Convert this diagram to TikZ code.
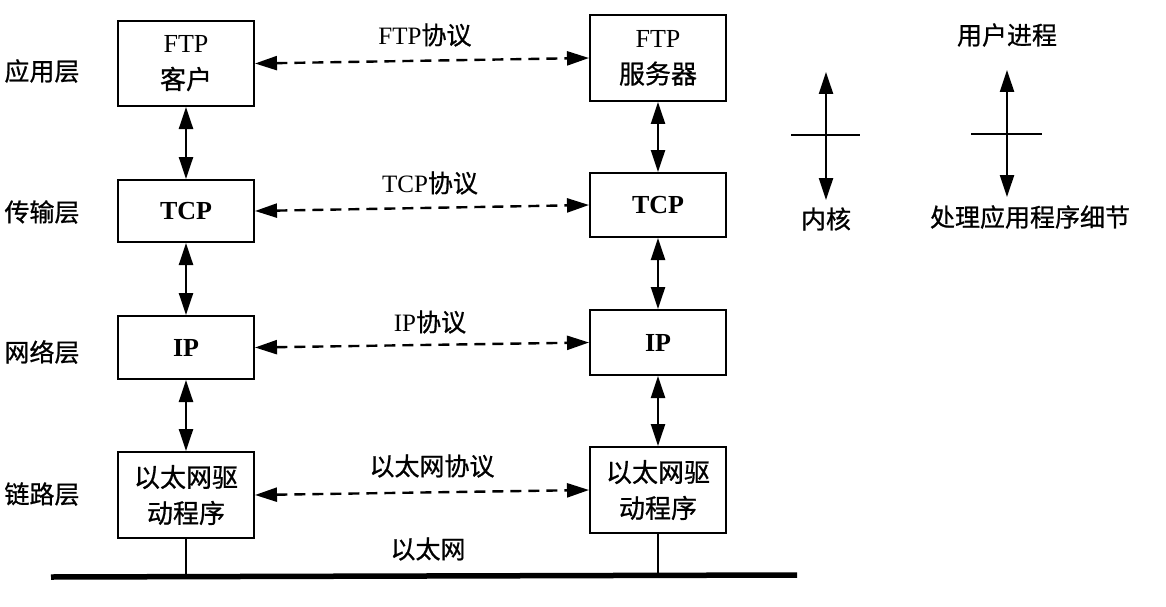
\documentclass[tikz,border=0pt]{standalone}
\usepackage{fontspec}
\setmainfont{Liberation Serif}
\newfontfamily\cjk[FakeBold=0.8]{Noto Sans CJK SC}
\usetikzlibrary{arrows.meta}
\newcommand\zh[1]{{\cjk #1}}
\begin{document}
\begin{tikzpicture}[x=1pt,y=-1pt,
  box/.style={draw,line width=2pt,minimum width=136pt,align=center,inner sep=0pt,font=\fontsize{26}{36}\selectfont},
  lbl/.style={font=\fontsize{25}{28}\selectfont,inner sep=0pt},
  varrow/.style={line width=2.4pt,{Triangle[length=22pt,width=14pt]}-{Triangle[length=22pt,width=14pt]}},
  darrow/.style={line width=2.4pt,dash pattern=on 11pt off 7pt,{Triangle[length=22pt,width=14pt]}-{Triangle[length=22pt,width=14pt]}},
  thin/.style={line width=1.6pt}
]
\useasboundingbox[fill=white] (0,0) rectangle (1166,607);

% layer labels
\node[lbl] (l1) at (42,71) {\zh{应用层}};
\node[lbl] (l2) at (42,212) {\zh{传输层}};
\node[lbl] (l3) at (42,352) {\zh{网络层}};
\node[lbl] (l4) at (42,494) {\zh{链路层}};

% left column
\node[box,minimum height=85pt] (lftp) at (186,63.5) {FTP\\\zh{客户}};
\node[box,minimum height=62pt] (ltcp) at (186,211) {\textbf{TCP}};
\node[box,minimum height=63pt] (lip) at (186,347.5) {\textbf{IP}};
\node[box,minimum height=86pt] (leth) at (186,495) {\zh{以太网驱}\\\zh{动程序}};

% right column
\node[box,minimum height=86pt] (rftp) at (658,58) {FTP\\\zh{服务器}};
\node[box,minimum height=64pt] (rtcp) at (658,205) {\textbf{TCP}};
\node[box,minimum height=65pt] (rip) at (658,342.5) {\textbf{IP}};
\node[box,minimum height=86pt] (reth) at (658,490) {\zh{以太网驱}\\\zh{动程序}};

% vertical arrows
\draw[varrow] (lftp) -- (ltcp);
\draw[varrow] (ltcp) -- (lip);
\draw[varrow] (lip) -- (leth);
\draw[varrow] (rftp) -- (rtcp);
\draw[varrow] (rtcp) -- (rip);
\draw[varrow] (rip) -- (reth);

% peer protocols
\draw[darrow] (lftp.east) -- (rftp.west);
\draw[darrow] (ltcp.east) -- (rtcp.west);
\draw[darrow] (lip.east) -- (rip.west);
\draw[darrow] (leth.east) -- (reth.west);
\node[lbl] (pftp) at (425,35) {FTP\zh{协议}};
\node[lbl] (ptcp) at (430,183) {TCP\zh{协议}};
\node[lbl] (pip) at (430,322) {IP\zh{协议}};
\node[lbl] (peth) at (432,466) {\zh{以太网协议}};

% ethernet bus
\coordinate (busL) at (51,577);
\coordinate (busR) at (797,575);
\draw[line width=5.5pt] (busL) -- (busR);
\draw[thin] (leth.south) -- (leth.south |- busL);
\draw[thin] (reth.south) -- (reth.south |- busR);
\node[lbl] (ether) at (428,549) {\zh{以太网}};

% legend
\coordinate (k1) at (826,72);
\coordinate (k2) at (826,200);
\draw[varrow] (k1) -- (k2);
\coordinate (kb1) at (791,135);
\coordinate (kb2) at (860,135);
\draw[line width=2pt] (kb1) -- (kb2);
\node[lbl] (kern) at (826,219) {\zh{内核}};

\node[lbl] (user) at (1007,35) {\zh{用户进程}};
\coordinate (u1) at (1007,70);
\coordinate (u2) at (1007,197);
\draw[varrow] (u1) -- (u2);
\coordinate (ub1) at (971,134);
\coordinate (ub2) at (1042,134);
\draw[line width=2pt] (ub1) -- (ub2);
\node[lbl] (app) at (1030,217) {\zh{处理应用程序细节}};
\end{tikzpicture}
\end{document}
